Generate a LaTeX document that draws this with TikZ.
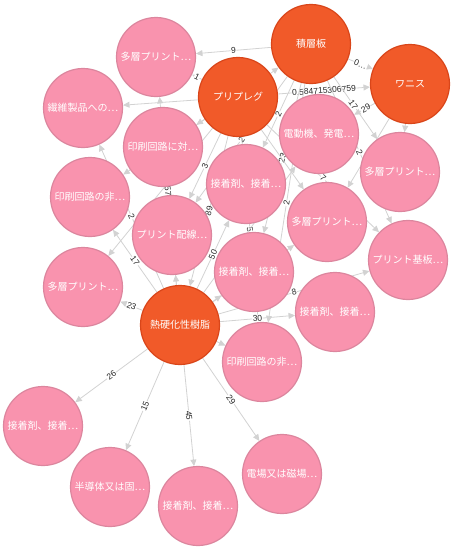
\documentclass[tikz,border=0pt]{standalone}
\usepackage{fontspec}
\setmainfont{Liberation Sans}
\newfontfamily\jp{Noto Sans CJK JP}
\usetikzlibrary{arrows.meta}
\pgfdeclarelayer{bg}
\pgfsetlayers{bg,main}
\definecolor{hubfill}{HTML}{F15A29}
\definecolor{hubline}{HTML}{D9461A}
\definecolor{pinkfill}{HTML}{F993AE}
\definecolor{pinkline}{HTML}{DC869E}
\definecolor{edgec}{HTML}{D2D2D2}
\begin{document}
\begin{tikzpicture}[x=1pt,y=-1pt,
  base/.style={circle,minimum size=79pt,inner sep=0pt,line width=1.2pt,text=white,font=\jp\fontsize{10}{12}\selectfont},
  hub/.style={base,draw=hubline,fill=hubfill},
  leaf/.style={base,draw=pinkline,fill=pinkfill},
  link/.style={draw=edgec,line width=0.8pt,-{Triangle[length=6.5pt,width=6pt]}},
  lab/.style={sloped,font=\fontsize{8.5}{9}\selectfont,text=black!85,fill=white,inner sep=0.5pt}]
\useasboundingbox (0,0) rectangle (455,550);
\node[hub] (A) at (311,44) {積層板};
\node[hub] (W) at (410,84) {ワニス};
\node[hub] (P) at (238,97) {プリプレグ};
\node[hub] (T) at (180,325) {熱硬化性樹脂};
\node[leaf] (m1) at (156,57) {多層プリント…};
\node[leaf] (fib) at (83,108) {繊維製品への…};
\node[leaf] (pc) at (163,147) {印刷回路に対…};
\node[leaf] (pn1) at (90,197) {印刷回路の非…};
\node[leaf] (pw) at (172,235) {プリント配線…};
\node[leaf] (m2) at (83,287) {多層プリント…};
\node[leaf] (mot) at (319,134) {電動機、発電…};
\node[leaf] (ad1) at (246,184) {接着剤、接着…};
\node[leaf] (m3) at (400,172) {多層プリント…};
\node[leaf] (m4) at (327,222) {多層プリント…};
\node[leaf] (pb) at (408,260) {プリント基板…};
\node[leaf] (ad2) at (254,272) {接着剤、接着…};
\node[leaf] (ad3) at (335,312) {接着剤、接着…};
\node[leaf] (pn2) at (262,362) {印刷回路の非…};
\node[leaf] (ad4) at (43,426) {接着剤、接着…};
\node[leaf] (semi) at (110,487) {半導体又は固…};
\node[leaf] (ad5) at (198,506) {接着剤、接着…};
\node[leaf] (em) at (282,474) {電場又は磁場…};
\begin{pgfonlayer}{bg}
\draw[link] (A) -- node[lab]{9} (m1);
\draw[link] (P) -- node[lab]{1} (m1);
\draw[link] (A) -- node[lab]{0…} (W);
\draw[link] (P) -- node[lab]{0.584715306759} (W);
\draw[link] (A) -- node[lab,pos=0.45]{17} (m3);
\draw[link] (W) -- node[lab,pos=0.44]{29} (mot);
\draw[link] (A) -- node[lab]{2} (ad1);
\draw[link] (A) -- node[lab]{2} (pw);
\draw[link] (P) -- node[lab]{3} (pw);
\draw[link] (A) -- node[lab]{23} (ad2);
\draw[link] (A) -- node[lab]{2} (pn2);
\draw[link] (A) -- node[lab]{2} (pb);
\draw[link] (P) -- node[lab]{7} (pb);
\draw[link] (P) -- node[lab]{89} (T);
\draw[link] (P) -- node[lab]{5} (pn2);
\draw[link] (P) -- (A);
\draw[link] (P) -- (pc);
\draw[link] (P) -- (fib);
\draw[link] (P) -- (pn1);
\draw[link] (P) -- (m2);
\draw[link] (P) -- (m4);
\draw[link] (W) -- (m3);
\draw[link] (W) -- (m4);
\draw[link] (T) -- node[lab]{57} (m1);
\draw[link] (T) -- node[lab]{2} (fib);
\draw[link] (T) -- node[lab]{17} (pn1);
\draw[link] (T) -- node[lab]{23} (m2);
\draw[link] (T) -- node[lab]{50} (ad1);
\draw[link] (T) -- node[lab]{8} (pb);
\draw[link] (T) -- node[lab]{30} (ad3);
\draw[link] (T) -- node[lab]{26} (ad4);
\draw[link] (T) -- node[lab]{15} (semi);
\draw[link] (T) -- node[lab]{45} (ad5);
\draw[link] (T) -- node[lab]{29} (em);
\draw[link] (T) -- (pw);
\draw[link] (T) -- (ad2);
\draw[link] (T) -- (pn2);
\draw[link] (T) -- (mot);
\draw[link] (T) -- (m4);
\end{pgfonlayer}
\end{tikzpicture}
\end{document}
